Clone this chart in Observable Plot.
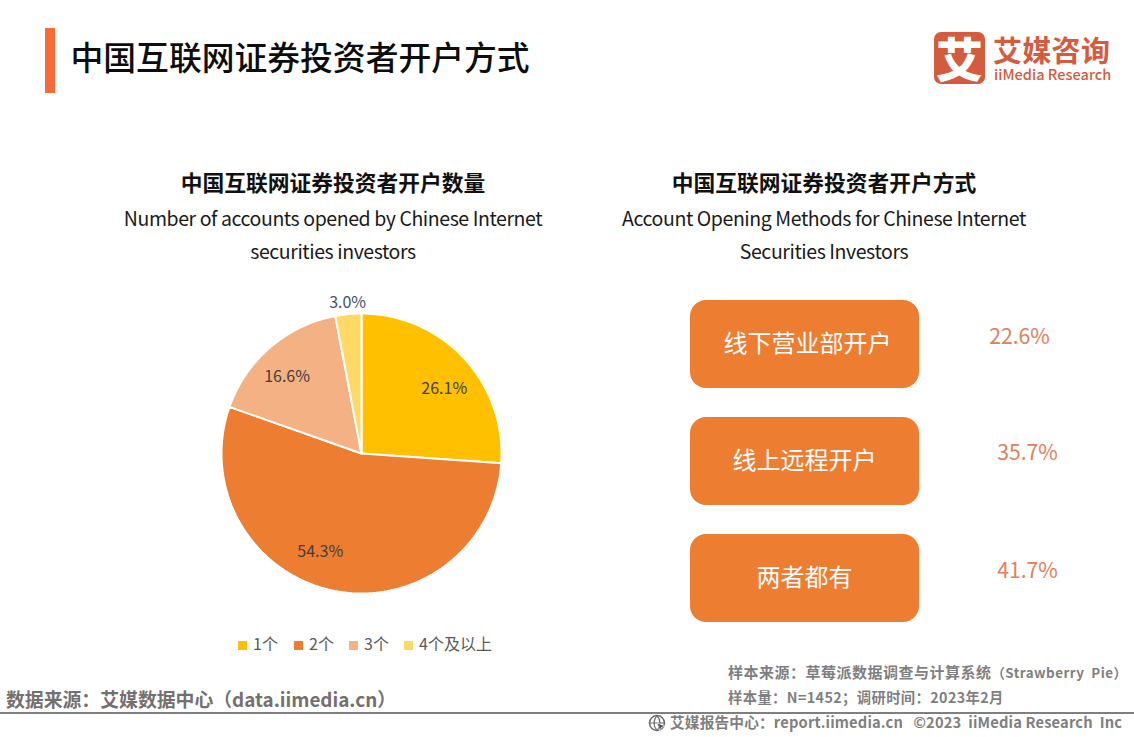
<!DOCTYPE html>
<html lang="zh">
<head>
<meta charset="utf-8">
<script src="https://cdn.jsdelivr.net/npm/d3@7"></script>
<script src="https://cdn.jsdelivr.net/npm/@observablehq/plot@0.6"></script>
<style>
html,body{margin:0;padding:0;background:#fff;}
#page{position:relative;width:1134px;height:737px;overflow:hidden;font-family:"Noto Sans CJK SC","Noto Sans",sans-serif;}
#page>div,#page>figure,#page>svg{position:absolute;margin:0;}
.t{white-space:nowrap;line-height:1;}
.c{transform:translateX(-50%);text-align:center;}
.h{font-size:21.75px;font-weight:700;color:#111;top:171px;}
.e{font-size:19.5px;color:#1a1a1a;letter-spacing:-.42px;}
.f{font-weight:700;color:#7f7f7f;font-family:"Noto Sans CJK SC",sans-serif;}
</style>
</head>
<body>
<div id="page"></div>
<script>
const shareCategories = ["1个", "2个", "3个", "4个及以上"];
const shareValues = [26.1, 54.3, 16.6, 3.0];
const shareColors = ["#FFC000", "#ED7D31", "#F4B183", "#FFD966"];
const methodNames = ["线下营业部开户", "线上远程开户", "两者都有"];
const methodValues = [22.6, 35.7, 41.7];

const page = document.getElementById("page");
function add(cls, css, text) {
  const el = document.createElement("div");
  el.className = "t " + cls;
  el.style.cssText = css;
  el.textContent = text;
  page.appendChild(el);
  return el;
}

// header
add("", "left:45px;top:28px;width:10px;height:65px;background:#F96A39;", "");
add("", "left:70.5px;top:40px;font-size:32.8px;font-weight:500;color:#0d0d0d;", "中国互联网证券投资者开户方式");
add("", "left:934px;top:32px;width:51px;height:52px;border-radius:7px;background:#D55B3E;color:#fff;font-size:47px;font-weight:900;text-align:center;line-height:50px;", "艾");
add("", "left:993px;top:33px;font-size:29px;font-weight:700;color:#D55B3E;letter-spacing:.3px;line-height:32px;height:32px;", "艾媒咨询");
add("", "left:994px;top:67px;font-size:14.6px;font-weight:500;color:#D55B3E;", "iiMedia Research");

// chart headings
add("c h", "left:333px;", "中国互联网证券投资者开户数量");
add("c e", "left:333px;top:207.5px;", "Number of accounts opened by Chinese Internet");
add("c e", "left:333px;top:240.5px;", "securities investors");
add("c h", "left:824px;", "中国互联网证券投资者开户方式");
add("c e", "left:824px;top:207.5px;", "Account Opening Methods for Chinese Internet");
add("c e", "left:824px;top:240.5px;", "Securities Investors");

// pie: slices are closed polygons along the arc, through Plot's x/y/color scales
const radius = 140;
const arcs = d3.pie().sort(null)(shareValues).map((a, i) => ({...a, category: shareCategories[i]}));
const slicePoints = arcs.flatMap(a => {
  const steps = Math.ceil((a.endAngle - a.startAngle) * 40);
  const rim = d3.range(steps + 1).map(k => {
    const t = a.startAngle + (a.endAngle - a.startAngle) * k / steps;
    return {category: a.category, px: radius * Math.sin(t), py: -radius * Math.cos(t)};
  });
  return [{category: a.category, px: 0, py: 0}, ...rim];
});
const labelOffsets = [[6, 7], [-20, -4], [-6, 3], [-4, -46]];
const labelRadius = 105;
const pieLabels = arcs.map((a, i) => {
  const mid = (a.startAngle + a.endAngle) / 2;
  return {
    text: a.value.toFixed(1) + "%",
    px: labelRadius * Math.sin(mid) + labelOffsets[i][0],
    py: -labelRadius * Math.cos(mid) + labelOffsets[i][1],
    ink: a.value < 5 ? "#44546A" : "#404040"
  };
});

const pie = Plot.plot({
  width: 320, height: 320,
  margin: 0,
  x: {domain: [-160, 160], axis: null},
  y: {domain: [160, -160], axis: null},
  color: {domain: shareCategories, range: shareColors},
  style: {background: "transparent", overflow: "visible"},
  marks: [
    Plot.line(slicePoints, {x: "px", y: "py", z: "category", fill: "category", stroke: "#fff", strokeWidth: 2, curve: "linear-closed", strokeLinejoin: "miter"}),
    Plot.text(pieLabels, {x: "px", y: "py", text: "text", fill: "ink", fontSize: 16, fontFamily: "Noto Sans CJK SC"})
  ]
});
pie.style.cssText += "position:absolute;left:201px;top:292.5px;";
page.appendChild(pie);

// legend
const legendX = [238, 294, 349, 404];
shareCategories.forEach((c, i) => {
  add("", `left:${legendX[i]}px;top:641px;width:9px;height:9px;background:${shareColors[i]};`, "");
  add("", `left:${legendX[i] + 15}px;top:635px;font-size:16px;color:#595959;`, c);
});

// methods panel
const buttonWidth = 229;
const labelCenters = [117, 114, 114];
const valueCenters = [329, 337, 337];
const valueDy = [-7.5, -8, -7];
const methods = methodNames.map((name, i) => ({
  name, value: methodValues[i],
  label: labelCenters[i],
  valueX: valueCenters[i],
  valueText: methodValues[i].toFixed(1) + "%"
}));
const panel = Plot.plot({
  width: 400, height: 322,
  margin: 0,
  x: {domain: [0, 400], axis: null},
  y: {domain: methodNames, axis: null, paddingInner: 29 / 117, paddingOuter: 0},
  style: {background: "transparent", overflow: "visible"},
  marks: [
    Plot.barX(methods, {x1: 0, x2: buttonWidth, y: "name", fill: "#ED7D31", rx: 16}),
    Plot.text(methods, {x: "label", y: "name", text: "name", fill: "#fff", fontSize: 24, fontFamily: "Noto Sans CJK SC"}),
    ...methods.map((m, i) => Plot.text([m], {x: "valueX", y: "name", dy: valueDy[i], text: "valueText", fill: "#E0805A", fontSize: 21.2, fontFamily: "Noto Sans CJK SC"}))
  ]
});
panel.style.cssText += "position:absolute;left:690px;top:300px;";
page.appendChild(panel);

// footer
const sampleLine = add("f", "left:728px;top:663.5px;font-size:15px;letter-spacing:.5px;", "样本来源：草莓派数据调查与计算系统");
const sampleLatin = document.createElement("span");
sampleLatin.style.cssText = "font-size:13.4px;letter-spacing:.45px;white-space:pre;";
sampleLatin.textContent = "（Strawberry  Pie）";
sampleLine.appendChild(sampleLatin);
add("f", "left:728px;top:689.5px;font-size:14.3px;letter-spacing:.4px;", "样本量：N=1452；调研时间：2023年2月");
add("f", "left:6px;top:690px;font-size:18.85px;color:#757070;", "数据来源：艾媒数据中心（data.iimedia.cn）");
add("", "left:0;top:712px;width:1134px;height:2px;background:#7f7f7f;", "");
add("f", "left:670px;top:715px;font-size:14.7px;letter-spacing:.15px;", "艾媒报告中心：report.iimedia.cn   ©2023  iiMedia Research  Inc").style.whiteSpace = "pre";
const icon = d3.create("svg").attr("width", 18).attr("height", 18).attr("viewBox", "0 0 18 18").style("left", "648px").style("top", "714px");
icon.append("circle").attr("cx", 9).attr("cy", 9).attr("r", 7.5).attr("fill", "none").attr("stroke", "#6f6f6f").attr("stroke-width", 1.6);
icon.append("path").attr("d", "M1.5 9H16.5M9 1.5C5 6 5 12 9 16.5M9 1.5C13 6 13 12 9 16.5").attr("fill", "none").attr("stroke", "#6f6f6f").attr("stroke-width", 1.2);
icon.append("path").attr("d", "M9 9L17 12L13.5 13.5L12 17Z").attr("fill", "#555").attr("stroke", "#fff").attr("stroke-width", .6);
page.appendChild(icon.node());
</script>
</body>
</html>
